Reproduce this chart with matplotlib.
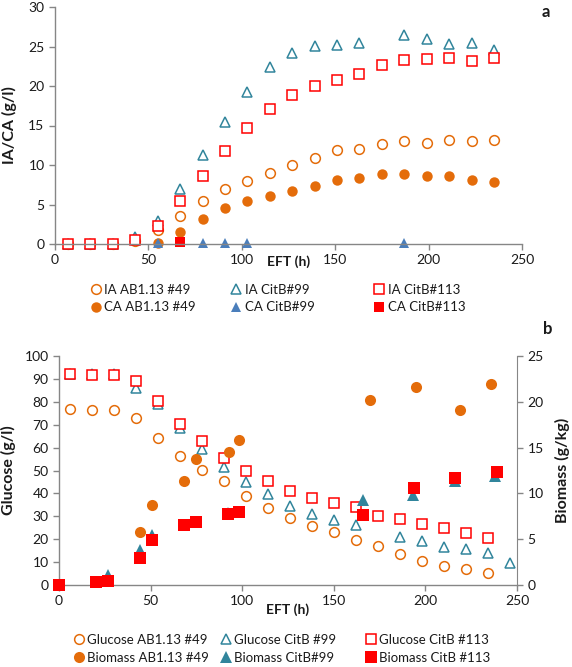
import matplotlib
matplotlib.use("Agg")
import matplotlib.pyplot as plt
from matplotlib.lines import Line2D

plt.rcParams['font.family'] = ['Lato', 'DejaVu Sans']

# ---------------- data: panel a ----------------
t_ia = [7, 19, 31, 43, 55, 67, 79, 91, 103, 115, 127, 139, 151, 163, 175, 187, 199, 211, 223, 235]
ia_49 = [0, 0, 0, 0.4, 1.8, 3.6, 5.4, 6.9, 8.0, 9.0, 10.0, 10.85, 11.9, 12.0, 12.7, 13.0, 12.8, 13.2, 13.0, 13.2]
ia_113 = [0, 0, 0, 0.5, 2.3, 5.5, 8.6, 11.8, 14.7, 17.1, 18.9, 20.0, 20.7, 21.5, 22.7, 23.3, 23.4, 23.5, 23.2, 23.6]
t_ia99 = [7, 19, 31, 43, 55, 67, 79, 91, 103, 115, 127, 139, 151, 163, 187, 199, 211, 223, 235]
ia_99 = [0, 0, 0, 0.9, 2.9, 6.9, 11.3, 15.5, 19.3, 22.4, 24.2, 25.1, 25.2, 25.5, 26.4, 25.9, 25.3, 25.5, 24.6]
t_ca49 = [55, 67, 79, 91, 103, 115, 127, 139, 151, 163, 175, 187, 199, 211, 223, 235]
ca_49 = [0.1, 1.5, 3.2, 4.6, 5.4, 6.1, 6.7, 7.4, 8.1, 8.3, 8.8, 8.9, 8.6, 8.6, 8.1, 7.9]
t_ca99 = [55, 79, 91, 103, 187]
ca_99 = [0.1, 0.1, 0.1, 0.1, 0.1]
t_ca113 = [67]
ca_113 = [0.25]

# ---------------- data: panel b ----------------
t_glc = [6, 18, 30, 42, 54, 66, 78, 90, 102, 114, 126, 138, 150, 162, 174, 186, 198, 210, 222, 234]
glc_49 = [76.7, 76.6, 76.3, 73.0, 64.2, 56.4, 50.3, 45.5, 38.7, 33.7, 29.4, 25.6, 23.3, 19.6, 17.2, 13.4, 10.6, 8.4, 7.0, 5.1]
glc_113 = [92.0, 91.9, 91.9, 89.0, 80.5, 70.5, 62.8, 55.6, 49.7, 45.5, 41.1, 38.2, 35.8, 34.0, 30.1, 28.8, 26.7, 24.9, 22.5, 20.6]
t_glc99 = [6, 18, 30, 42, 54, 66, 78, 90, 102, 114, 126, 138, 150, 162, 186, 198, 210, 222, 234, 246]
glc_99 = [92.3, 92.0, 92.1, 86.2, 78.9, 68.6, 59.6, 51.6, 45.1, 39.8, 34.4, 31.1, 28.3, 26.3, 21.1, 19.0, 16.7, 15.8, 13.8, 9.4]
t_bm49 = [44, 51, 68, 75, 93, 98, 170, 195, 219, 236]
bm_49 = [5.8, 8.7, 11.4, 13.8, 14.5, 15.8, 20.2, 21.6, 19.1, 21.9]
t_bm99 = [27, 44, 51, 92, 166, 193, 216, 238]
bm_99 = [1.1, 3.8, 5.45, 7.9, 9.3, 9.8, 11.3, 11.9]
t_bm113 = [0, 20, 27, 44, 51, 68, 75, 92, 98, 166, 194, 216, 239]
bm_113 = [0, 0.3, 0.4, 2.9, 4.9, 6.5, 6.9, 7.7, 8.0, 7.6, 10.6, 11.7, 12.3]

x_ticks = [0, 50, 100, 150, 200, 250]

ORANGE = '#E46C0A'
TEAL = '#31859C'
BLUE = '#4A7EBB'
RED = '#FF0000'
SPINE = '#868686'
TXT = '#1a1a1a'

W, H = 572, 667
fig = plt.figure(figsize=(W / 100, H / 100), dpi=100)


def fx(px):
    return px / W


def fy(py):
    return 1 - py / H


def style_axes(ax):
    for s in ['top', 'right']:
        ax.spines[s].set_visible(False)
    for s in ['left', 'bottom']:
        ax.spines[s].set_color(SPINE)
        ax.spines[s].set_linewidth(1.0)
    ax.tick_params(colors=SPINE, labelcolor=TXT, labelsize=10, length=4, width=1)


open_kw = dict(linestyle='none', markerfacecolor='white', markeredgewidth=1.1, clip_on=False)
fill_kw = dict(linestyle='none', markeredgewidth=0, clip_on=False)

# ---------------- panel a ----------------
ax1 = fig.add_axes([fx(55), fy(244), fx(522 - 55), (244 - 7) / H])
style_axes(ax1)
h_ia49, = ax1.plot(t_ia, ia_49, marker='o', markersize=7, markeredgecolor=ORANGE, **open_kw)
h_ia99, = ax1.plot(t_ia99, ia_99, marker='^', markersize=6.5, markeredgecolor=TEAL, **open_kw)
h_ia113, = ax1.plot(t_ia, ia_113, marker='s', markersize=7, markeredgecolor=RED, **open_kw)
h_ca49, = ax1.plot(t_ca49, ca_49, marker='o', markersize=7.5, color=ORANGE, **fill_kw)
h_ca99, = ax1.plot(t_ca99, ca_99, marker='^', markersize=7.5, color=BLUE, **fill_kw)
h_ca113, = ax1.plot(t_ca113, ca_113, marker='s', markersize=7.5, color=RED, **fill_kw)
ax1.set_xlim(0, 250)
ax1.set_ylim(0, 30)
ax1.set_xticks(x_ticks)
ax1.set_yticks(range(0, 31, 5))
ax1.set_ylabel('IA/CA (g/l)', fontsize=11.5, fontweight='bold', color=TXT, labelpad=8)
fig.text(fx(289), fy(262), 'EFT (h)', fontsize=10, fontweight='bold', color=TXT, ha='center', va='center')
fig.text(fx(546), fy(12), 'a', fontsize=12, fontweight='bold', color=TXT, ha='center', va='center')

leg_kw = dict(frameon=False, handlelength=1.0, handletextpad=0.15, borderpad=0, borderaxespad=0,
              labelspacing=0.45, fontsize=9.5, loc='center left', labelcolor=TXT)
cols_a = [(96, [h_ia49, h_ca49], ['IA AB1.13 #49', 'CA AB1.13 #49']),
          (236.5, [h_ia99, h_ca99], ['IA CitB#99', 'CA CitB#99']),
          (379.5, [h_ia113, h_ca113], ['IA CitB#113', 'CA CitB#113'])]
for mx, hs, ls in cols_a:
    fig.legend(hs, ls, bbox_to_anchor=(fx(mx - 7), fy(298.5)), **leg_kw)

# ---------------- panel b ----------------
ax2 = fig.add_axes([fx(59), fy(585), fx(517 - 59), (585 - 356) / H])
style_axes(ax2)
g49, = ax2.plot(t_glc, glc_49, marker='o', markersize=7, markeredgecolor=ORANGE, **open_kw)
g99, = ax2.plot(t_glc99, glc_99, marker='^', markersize=6.5, markeredgecolor=TEAL, **open_kw)
g113, = ax2.plot(t_glc, glc_113, marker='s', markersize=7, markeredgecolor=RED, **open_kw)
ax2.set_xlim(0, 250)
ax2.set_ylim(0, 100)
ax2.set_xticks(x_ticks)
ax2.set_yticks(range(0, 101, 10))
ax2.set_ylabel('Glucose (g/l)', fontsize=11.5, fontweight='bold', color=TXT, labelpad=6)
ax2.set_xlabel('EFT (h)', fontsize=10, fontweight='bold', color=TXT, labelpad=-3)

ax3 = ax2.twinx()
for s in ['top', 'left', 'bottom']:
    ax3.spines[s].set_visible(False)
ax3.spines['right'].set_color(SPINE)
ax3.tick_params(colors=SPINE, labelcolor=TXT, labelsize=10, length=4, width=1)
b49, = ax3.plot(t_bm49, bm_49, marker='o', markersize=8, color=ORANGE, **fill_kw)
b99, = ax3.plot(t_bm99, bm_99, marker='^', markersize=8, color=TEAL, **fill_kw)
b113, = ax3.plot(t_bm113, bm_113, marker='s', markersize=8, color=RED, **fill_kw)
ax3.set_ylim(0, 25)
ax3.set_yticks(range(0, 26, 5))
ax3.set_ylabel('Biomass (g/kg)', fontsize=11.5, fontweight='bold', color=TXT, labelpad=8)
fig.text(fx(548), fy(329), 'b', fontsize=12, fontweight='bold', color=TXT, ha='center', va='center')

cols_b = [(79, [g49, b49], ['Glucose AB1.13 #49', 'Biomass AB1.13 #49']),
          (226, [g99, b99], ['Glucose CitB #99', 'Biomass CitB#99']),
          (371, [g113, b113], ['Glucose CitB #113', 'Biomass CitB #113'])]
for mx, hs, ls in cols_b:
    fig.legend(hs, ls, bbox_to_anchor=(fx(mx - 7), fy(649)), **leg_kw)

fig.savefig('out.png', dpi=100)
